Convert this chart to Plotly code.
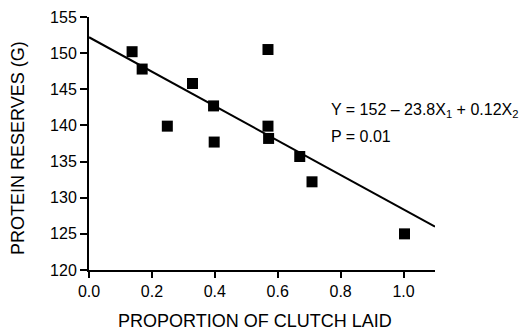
import plotly.graph_objects as go

# Data
clutch_laid = [0.137, 0.169, 0.249, 0.329, 0.396, 0.398, 0.569, 0.569, 0.571, 0.670, 0.709, 1.003]
protein = [150.2, 147.8, 139.9, 145.8, 142.7, 137.7, 150.5, 139.9, 138.2, 135.7, 132.2, 125.0]

# Fitted regression line end points
fit_x = [0.0, 1.1]
fit_y = [152.2, 126.0]

x_ticks = [0.0, 0.2, 0.4, 0.6, 0.8, 1.0]
x_tick_labels = ["0.0", "0.2", "0.4", "0.6", "0.8", "1.0"]
y_ticks = [120, 125, 130, 135, 140, 145, 150, 155]
y_tick_labels = [str(v) for v in y_ticks]

x_title = "PROPORTION OF CLUTCH LAID"
y_title = "PROTEIN RESERVES (G)"
equation = "Y = 152 \u2013 23.8X<sub>1</sub> + 0.12X<sub>2</sub>"
p_text = "P = 0.01"

FONT = "Liberation Sans, Arial, Helvetica, sans-serif"

fig = go.Figure()
fig.add_trace(go.Scatter(x=fit_x, y=fit_y, mode="lines",
                         line=dict(color="black", width=2), showlegend=False,
                         cliponaxis=False))
fig.add_trace(go.Scatter(x=clutch_laid, y=protein, mode="markers",
                         marker=dict(symbol="square", size=11, color="black"),
                         showlegend=False, cliponaxis=False))

fig.add_annotation(xref="x", yref="y", x=0.762, y=142.0, xanchor="left", yanchor="middle",
                   text=equation, showarrow=False,
                   font=dict(family=FONT, size=16, color="black"))
fig.add_annotation(xref="x", yref="y", x=0.762, y=138.4, xanchor="left", yanchor="middle",
                   text=p_text, showarrow=False,
                   font=dict(family=FONT, size=16, color="black"))

# Axis titles
fig.add_annotation(xref="paper", yref="paper", x=0.48, y=-0.2, xanchor="center",
                   yanchor="middle", text=x_title, showarrow=False,
                   font=dict(family=FONT, size=18, color="black"))
fig.add_annotation(xref="paper", yref="paper", x=-0.207, y=0.484, xanchor="center",
                   yanchor="middle", text=y_title, textangle=-90, showarrow=False,
                   font=dict(family=FONT, size=18, color="black"))

fig.update_layout(
    width=521, height=323,
    margin=dict(l=81, r=94, t=9, b=61, autoexpand=False),
    paper_bgcolor="white", plot_bgcolor="white",
    font=dict(family=FONT, size=16, color="black"),
    xaxis=dict(range=[0, 1.1], tickvals=x_ticks, ticktext=x_tick_labels,
               showgrid=False, zeroline=False, showline=True, linecolor="black",
               linewidth=2, ticks="outside", ticklen=6, tickwidth=1.5, tickcolor="black",
               automargin=False, tickfont=dict(size=16)),
    yaxis=dict(range=[120, 155], tickvals=y_ticks, ticktext=y_tick_labels,
               showgrid=False, zeroline=False, showline=True, linecolor="black",
               linewidth=2, ticks="outside", ticklen=7, tickwidth=1.5, tickcolor="black",
               automargin=False, tickfont=dict(size=16)),
)

fig.write_html("out.html")
